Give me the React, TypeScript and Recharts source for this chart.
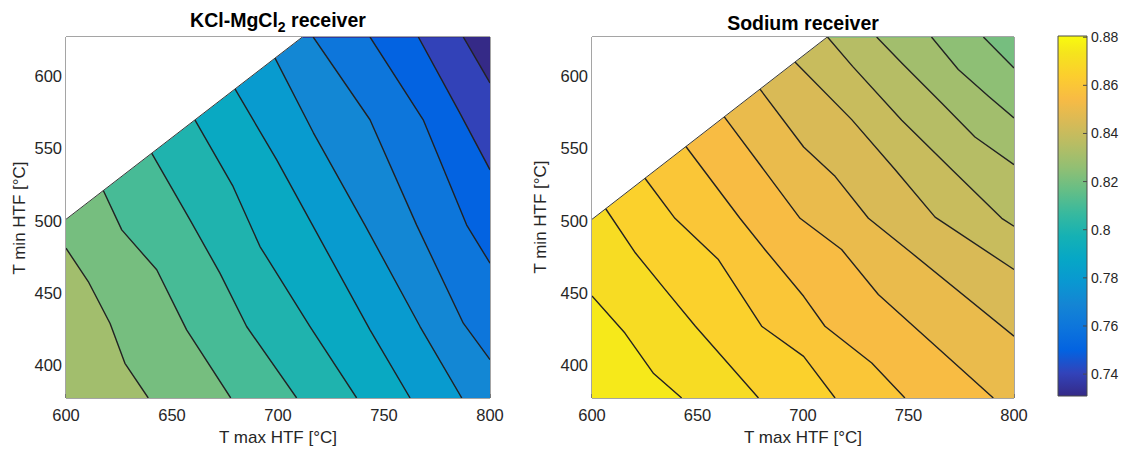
import React from 'react';
import { ScatterChart, Scatter, XAxis, YAxis, ReferenceArea } from 'recharts';

type Pt = { x: number; y: number };

const FONT = '"Liberation Sans", Arial, Helvetica, sans-serif';

// axes
const X_TICKS = [600, 650, 700, 750, 800];
const Y_TICKS = [400, 450, 500, 550, 600];
const X_DOMAIN: [number, number] = [600, 800];
const Y_DOMAIN: [number, number] = [377.5, 627];

// edge of the feasible region (upper-left is empty)
const feasibleEdge: Pt[] = [
  { x: 600, y: 501 },
  { x: 711.5, y: 627 },
];

// ---- KCl-MgCl2 receiver: contour levels and lines ----
const kclLevels = [0.83, 0.82, 0.81, 0.8, 0.79, 0.78, 0.77, 0.76, 0.75, 0.74];
const kclBandValues = [0.83, 0.82, 0.81, 0.8, 0.79, 0.78, 0.77, 0.76, 0.75, 0.74, 0.73];
const kclContours: Pt[][] = [
  [{ x: 600, y: 481 }, { x: 610.5, y: 458 }, { x: 620.8, y: 429 }, { x: 627.8, y: 401.5 }, { x: 638.8, y: 377.5 }],
  [{ x: 617.6, y: 520.9 }, { x: 626.3, y: 493.7 }, { x: 642.8, y: 466.1 }, { x: 656.9, y: 424.6 }, { x: 677.7, y: 377.5 }],
  [{ x: 640.4, y: 546.7 }, { x: 658.5, y: 500.6 }, { x: 672.6, y: 463.8 }, { x: 685.2, y: 426.9 }, { x: 708.8, y: 377.5 }],
  [{ x: 660.8, y: 569.7 }, { x: 678.8, y: 523.7 }, { x: 691.5, y: 482.2 }, { x: 715.1, y: 426.9 }, { x: 737.1, y: 377.5 }],
  [{ x: 679.7, y: 591.1 }, { x: 699.4, y: 542.1 }, { x: 715.5, y: 499 }, { x: 743.4, y: 424.6 }, { x: 762.3, y: 377.5 }],
  [{ x: 698.6, y: 612.4 }, { x: 716.7, y: 560.8 }, { x: 741, y: 497 }, { x: 767, y: 426.9 }, { x: 786.7, y: 377.5 }],
  [{ x: 716.6, y: 627 }, { x: 743.4, y: 569.8 }, { x: 765.4, y: 497 }, { x: 787.4, y: 429.2 }, { x: 800, y: 404 }],
  [{ x: 743.4, y: 627 }, { x: 768.5, y: 569.8 }, { x: 789, y: 497 }, { x: 800, y: 470.7 }],
  [{ x: 766.2, y: 627 }, { x: 785.8, y: 574.4 }, { x: 800, y: 535.2 }],
  [{ x: 787.4, y: 627 }, { x: 800, y: 595.2 }],
];

// ---- Sodium receiver: contour levels and lines ----
const naLevels = [0.875, 0.87, 0.865, 0.86, 0.855, 0.85, 0.845, 0.84, 0.835, 0.83, 0.825];
const naBandValues = [0.875, 0.87, 0.865, 0.86, 0.855, 0.85, 0.845, 0.84, 0.835, 0.83, 0.825, 0.82];
const naContours: Pt[][] = [
  [{ x: 600, y: 448 }, { x: 615.6, y: 422.4 }, { x: 629.2, y: 394.4 }, { x: 642.5, y: 377.5 }],
  [{ x: 606.5, y: 508.3 }, { x: 620.6, y: 477.7 }, { x: 634.7, y: 452.4 }, { x: 649, y: 427.1 }, { x: 678.9, y: 377.5 }],
  [{ x: 625.1, y: 529.4 }, { x: 639.3, y: 501.7 }, { x: 659.9, y: 473.2 }, { x: 680.4, y: 427.1 }, { x: 700.3, y: 406.3 }, { x: 715.2, y: 377.5 }],
  [{ x: 644.5, y: 551.3 }, { x: 670.1, y: 501.7 }, { x: 682, y: 480 }, { x: 700.3, y: 447.8 }, { x: 710.4, y: 427.1 }, { x: 732.6, y: 401.7 }, { x: 748.3, y: 377.5 }],
  [{ x: 662.7, y: 571.8 }, { x: 698.6, y: 501.7 }, { x: 718.3, y: 480.1 }, { x: 735.7, y: 449 }, { x: 790.2, y: 377.5 }],
  [{ x: 679.6, y: 591 }, { x: 700.3, y: 551 }, { x: 715.2, y: 530.7 }, { x: 731, y: 501.7 }, { x: 751.5, y: 477.7 }, { x: 800, y: 420.2 }],
  [{ x: 696.2, y: 609.7 }, { x: 723.1, y: 569.9 }, { x: 743.6, y: 535.4 }, { x: 762.6, y: 502.5 }, { x: 800, y: 466.3 }],
  [{ x: 711.6, y: 627 }, { x: 723.5, y: 606.7 }, { x: 746.8, y: 569.4 }, { x: 770.5, y: 535.4 }, { x: 794.2, y: 501.7 }, { x: 800, y: 496.2 }],
  [{ x: 734.9, y: 627 }, { x: 746.8, y: 609 }, { x: 765.7, y: 581.4 }, { x: 781.5, y: 557.9 }, { x: 800, y: 538.8 }],
  [{ x: 760.9, y: 627 }, { x: 773.6, y: 604.5 }, { x: 787.9, y: 586 }, { x: 800, y: 571 }],
  [{ x: 785.5, y: 627 }, { x: 800, y: 605.6 }],
];

// ---- colour bar ----
const CBAR_TICKS = [0.74, 0.76, 0.78, 0.8, 0.82, 0.84, 0.86, 0.88];
const CBAR_DOMAIN: [number, number] = [0.7309, 0.8805];
// parula, sampled every 4th of 64 entries
const PARULA_STOPS = [
  '#352a87', '#3243ba', '#0363e1', '#0d75dc', '#1485d4', '#0998d1', '#06a7c6', '#15b1b4', '#38b99e',
  '#65be86', '#92bf73', '#b7bd64', '#d9ba56', '#f8bb44', '#fcce2e', '#f5e41d', '#f9fb0e',
];
const PARULA_POS = [0, 4, 8, 12, 16, 20, 24, 28, 32, 36, 40, 44, 48, 52, 56, 60, 63].map((i) => i / 63);

function hexToRgb(h: string) {
  const n = parseInt(h.slice(1), 16);
  return [(n >> 16) & 255, (n >> 8) & 255, n & 255];
}
function parula(v: number) {
  let t = (v - CBAR_DOMAIN[0]) / (CBAR_DOMAIN[1] - CBAR_DOMAIN[0]);
  t = Math.max(0, Math.min(1, t));
  let i = 0;
  while (i < PARULA_POS.length - 2 && t > PARULA_POS[i + 1]) i++;
  const f = (t - PARULA_POS[i]) / (PARULA_POS[i + 1] - PARULA_POS[i]);
  const a = hexToRgb(PARULA_STOPS[i]);
  const b = hexToRgb(PARULA_STOPS[i + 1]);
  const c = a.map((av, k) => Math.round(av + (b[k] - av) * f));
  return `rgb(${c[0]},${c[1]},${c[2]})`;
}

// region on the upper/right side of a contour line (painter's order)
function regionBeyond(line: Pt[]): Pt[] {
  const pts = [...line];
  const end = line[line.length - 1];
  if (end.y <= Y_DOMAIN[0] + 0.01) pts.push({ x: X_DOMAIN[1], y: Y_DOMAIN[0] });
  pts.push({ x: X_DOMAIN[1], y: Y_DOMAIN[1] });
  pts.push({ x: X_DOMAIN[0], y: Y_DOMAIN[1] });
  return pts;
}
const fullRect: Pt[] = [
  { x: X_DOMAIN[0], y: Y_DOMAIN[0] },
  { x: X_DOMAIN[1], y: Y_DOMAIN[0] },
  { x: X_DOMAIN[1], y: Y_DOMAIN[1] },
  { x: X_DOMAIN[0], y: Y_DOMAIN[1] },
];
const emptyRegion: Pt[] = [...feasibleEdge, { x: X_DOMAIN[0], y: Y_DOMAIN[1] }];

const NoPoint = () => <g />;

const polygonRenderer = (fill: string) => (props: any) => {
  const pts: { x: number; y: number }[] = props.points || [];
  const d = pts.map((p, i) => `${i ? 'L' : 'M'}${p.x},${p.y}`).join(' ') + ' Z';
  return <path d={d} fill={fill} stroke={fill} strokeWidth={0.6} />;
};
const lineRenderer = (stroke: string, width: number) => (props: any) => {
  const pts: { x: number; y: number }[] = props.points || [];
  const d = pts.map((p, i) => `${i ? 'L' : 'M'}${p.x},${p.y}`).join(' ');
  return <path d={d} fill="none" stroke={stroke} strokeWidth={width} strokeLinejoin="round" />;
};

const AXIS_COLOR = '#4a4a4a';
const TICK_STYLE = { fill: '#262626', fontSize: 16.5, fontFamily: FONT };

function ContourPanel({ contours, bandValues, width, margin }: { contours: Pt[][]; bandValues: number[]; width: number; margin: any }) {
  return (
    <ScatterChart width={width} height={449} margin={margin}>
      <Scatter data={fullRect} shape={NoPoint} line={polygonRenderer(parula(bandValues[0]))} isAnimationActive={false} />
      {contours.map((c, i) => (
        <Scatter key={'r' + i} data={regionBeyond(c)} shape={NoPoint} line={polygonRenderer(parula(bandValues[i + 1]))} isAnimationActive={false} />
      ))}
      <Scatter data={emptyRegion} shape={NoPoint} line={polygonRenderer('#ffffff')} isAnimationActive={false} />
      {contours.map((c, i) => (
        <Scatter key={'l' + i} data={c} shape={NoPoint} line={lineRenderer('#222222', 1.4)} isAnimationActive={false} />
      ))}
      <Scatter data={feasibleEdge} shape={NoPoint} line={lineRenderer('#3a3a3a', 1)} isAnimationActive={false} />
      <Scatter data={fullRect} xAxisId="top" yAxisId="right" shape={NoPoint} isAnimationActive={false} />
      <XAxis type="number" dataKey="x" domain={X_DOMAIN} ticks={X_TICKS} allowDataOverflow height={30}
        tickSize={-4} tickMargin={15} stroke={AXIS_COLOR} tick={TICK_STYLE} />
      <XAxis xAxisId="top" orientation="top" type="number" dataKey="x" domain={X_DOMAIN} ticks={X_TICKS} allowDataOverflow height={1}
        tickSize={-4} tick={false} stroke={AXIS_COLOR} />
      <YAxis type="number" dataKey="y" domain={Y_DOMAIN} ticks={Y_TICKS} allowDataOverflow width={50}
        tickSize={-4} tickMargin={8} stroke={AXIS_COLOR} tick={TICK_STYLE} />
      <YAxis yAxisId="right" orientation="right" type="number" dataKey="y" domain={Y_DOMAIN} ticks={Y_TICKS} allowDataOverflow width={1}
        tickSize={-4} tick={false} stroke={AXIS_COLOR} />
    </ScatterChart>
  );
}

const cbarExtent = [
  { x: 0, v: CBAR_DOMAIN[0] },
  { x: 1, v: CBAR_DOMAIN[1] },
];

function ColorBar() {
  return (
    <ScatterChart width={83} height={449} margin={{ top: 36, right: 0, bottom: 53, left: 18 }}>
      <Scatter data={cbarExtent} shape={NoPoint} isAnimationActive={false} />
      <XAxis type="number" dataKey="x" domain={[0, 1]} hide />
      <YAxis orientation="right" type="number" dataKey="v" domain={CBAR_DOMAIN} ticks={CBAR_TICKS} width={36}
        tickSize={-4} tickMargin={8} axisLine={false} stroke={AXIS_COLOR} allowDataOverflow
        tick={{ fill: '#262626', fontSize: 14, fontFamily: FONT }} />
      <ReferenceArea x1={0} x2={1} y1={CBAR_DOMAIN[0]} y2={CBAR_DOMAIN[1]} fill="url(#parulaGrad)" fillOpacity={1}
        stroke={AXIS_COLOR} strokeWidth={1} ifOverflow="extendDomain" />
    </ScatterChart>
  );
}

export default function App() {
  return (
    <div style={{ position: 'absolute', left: 0, top: 0, width: 1123, height: 449, background: '#fff', fontFamily: FONT }}>
      <svg width={0} height={0} style={{ position: 'absolute' }}>
        <defs>
          <linearGradient id="parulaGrad" x1="0" y1="1" x2="0" y2="0">
            {PARULA_STOPS.map((c, i) => (
              <stop key={i} offset={PARULA_POS[i]} stopColor={c} />
            ))}
          </linearGradient>
        </defs>
      </svg>
      <div style={{ position: 'absolute', left: 0, top: 0 }}>
        <ContourPanel contours={kclContours} bandValues={kclBandValues} width={515} margin={{ top: 36, right: 24, bottom: 21, left: 16 }} />
      </div>
      <div style={{ position: 'absolute', left: 520, top: 0 }}>
        <ContourPanel contours={naContours} bandValues={naBandValues} width={510} margin={{ top: 36, right: 15, bottom: 21, left: 22 }} />
      </div>
      <div style={{ position: 'absolute', left: 1040, top: 0 }}>
        <ColorBar />
      </div>
      <svg width={1123} height={449} style={{ position: 'absolute', left: 0, top: 0, pointerEvents: 'none' }} fontFamily={FONT}>
        <text x={278} y={26.5} textAnchor="middle" fontSize={19.5} fontWeight="bold" fill="#000">
          KCl-MgCl<tspan fontSize={14} dy={5}>2</tspan><tspan dy={-5}> receiver</tspan>
        </text>
        <text x={803} y={30} textAnchor="middle" fontSize={19.5} fontWeight="bold" fill="#000">Sodium receiver</text>
        <text x={278} y={443} textAnchor="middle" fontSize={17} fill="#262626">T max HTF [°C]</text>
        <text x={803} y={443} textAnchor="middle" fontSize={17} fill="#262626">T max HTF [°C]</text>
        <text x={25} y={218} textAnchor="middle" fontSize={17} fill="#262626" transform="rotate(-90 25 218)">T min HTF [°C]</text>
        <text x={546} y={217} textAnchor="middle" fontSize={17} fill="#262626" transform="rotate(-90 546 217)">T min HTF [°C]</text>
      </svg>
    </div>
  );
}
